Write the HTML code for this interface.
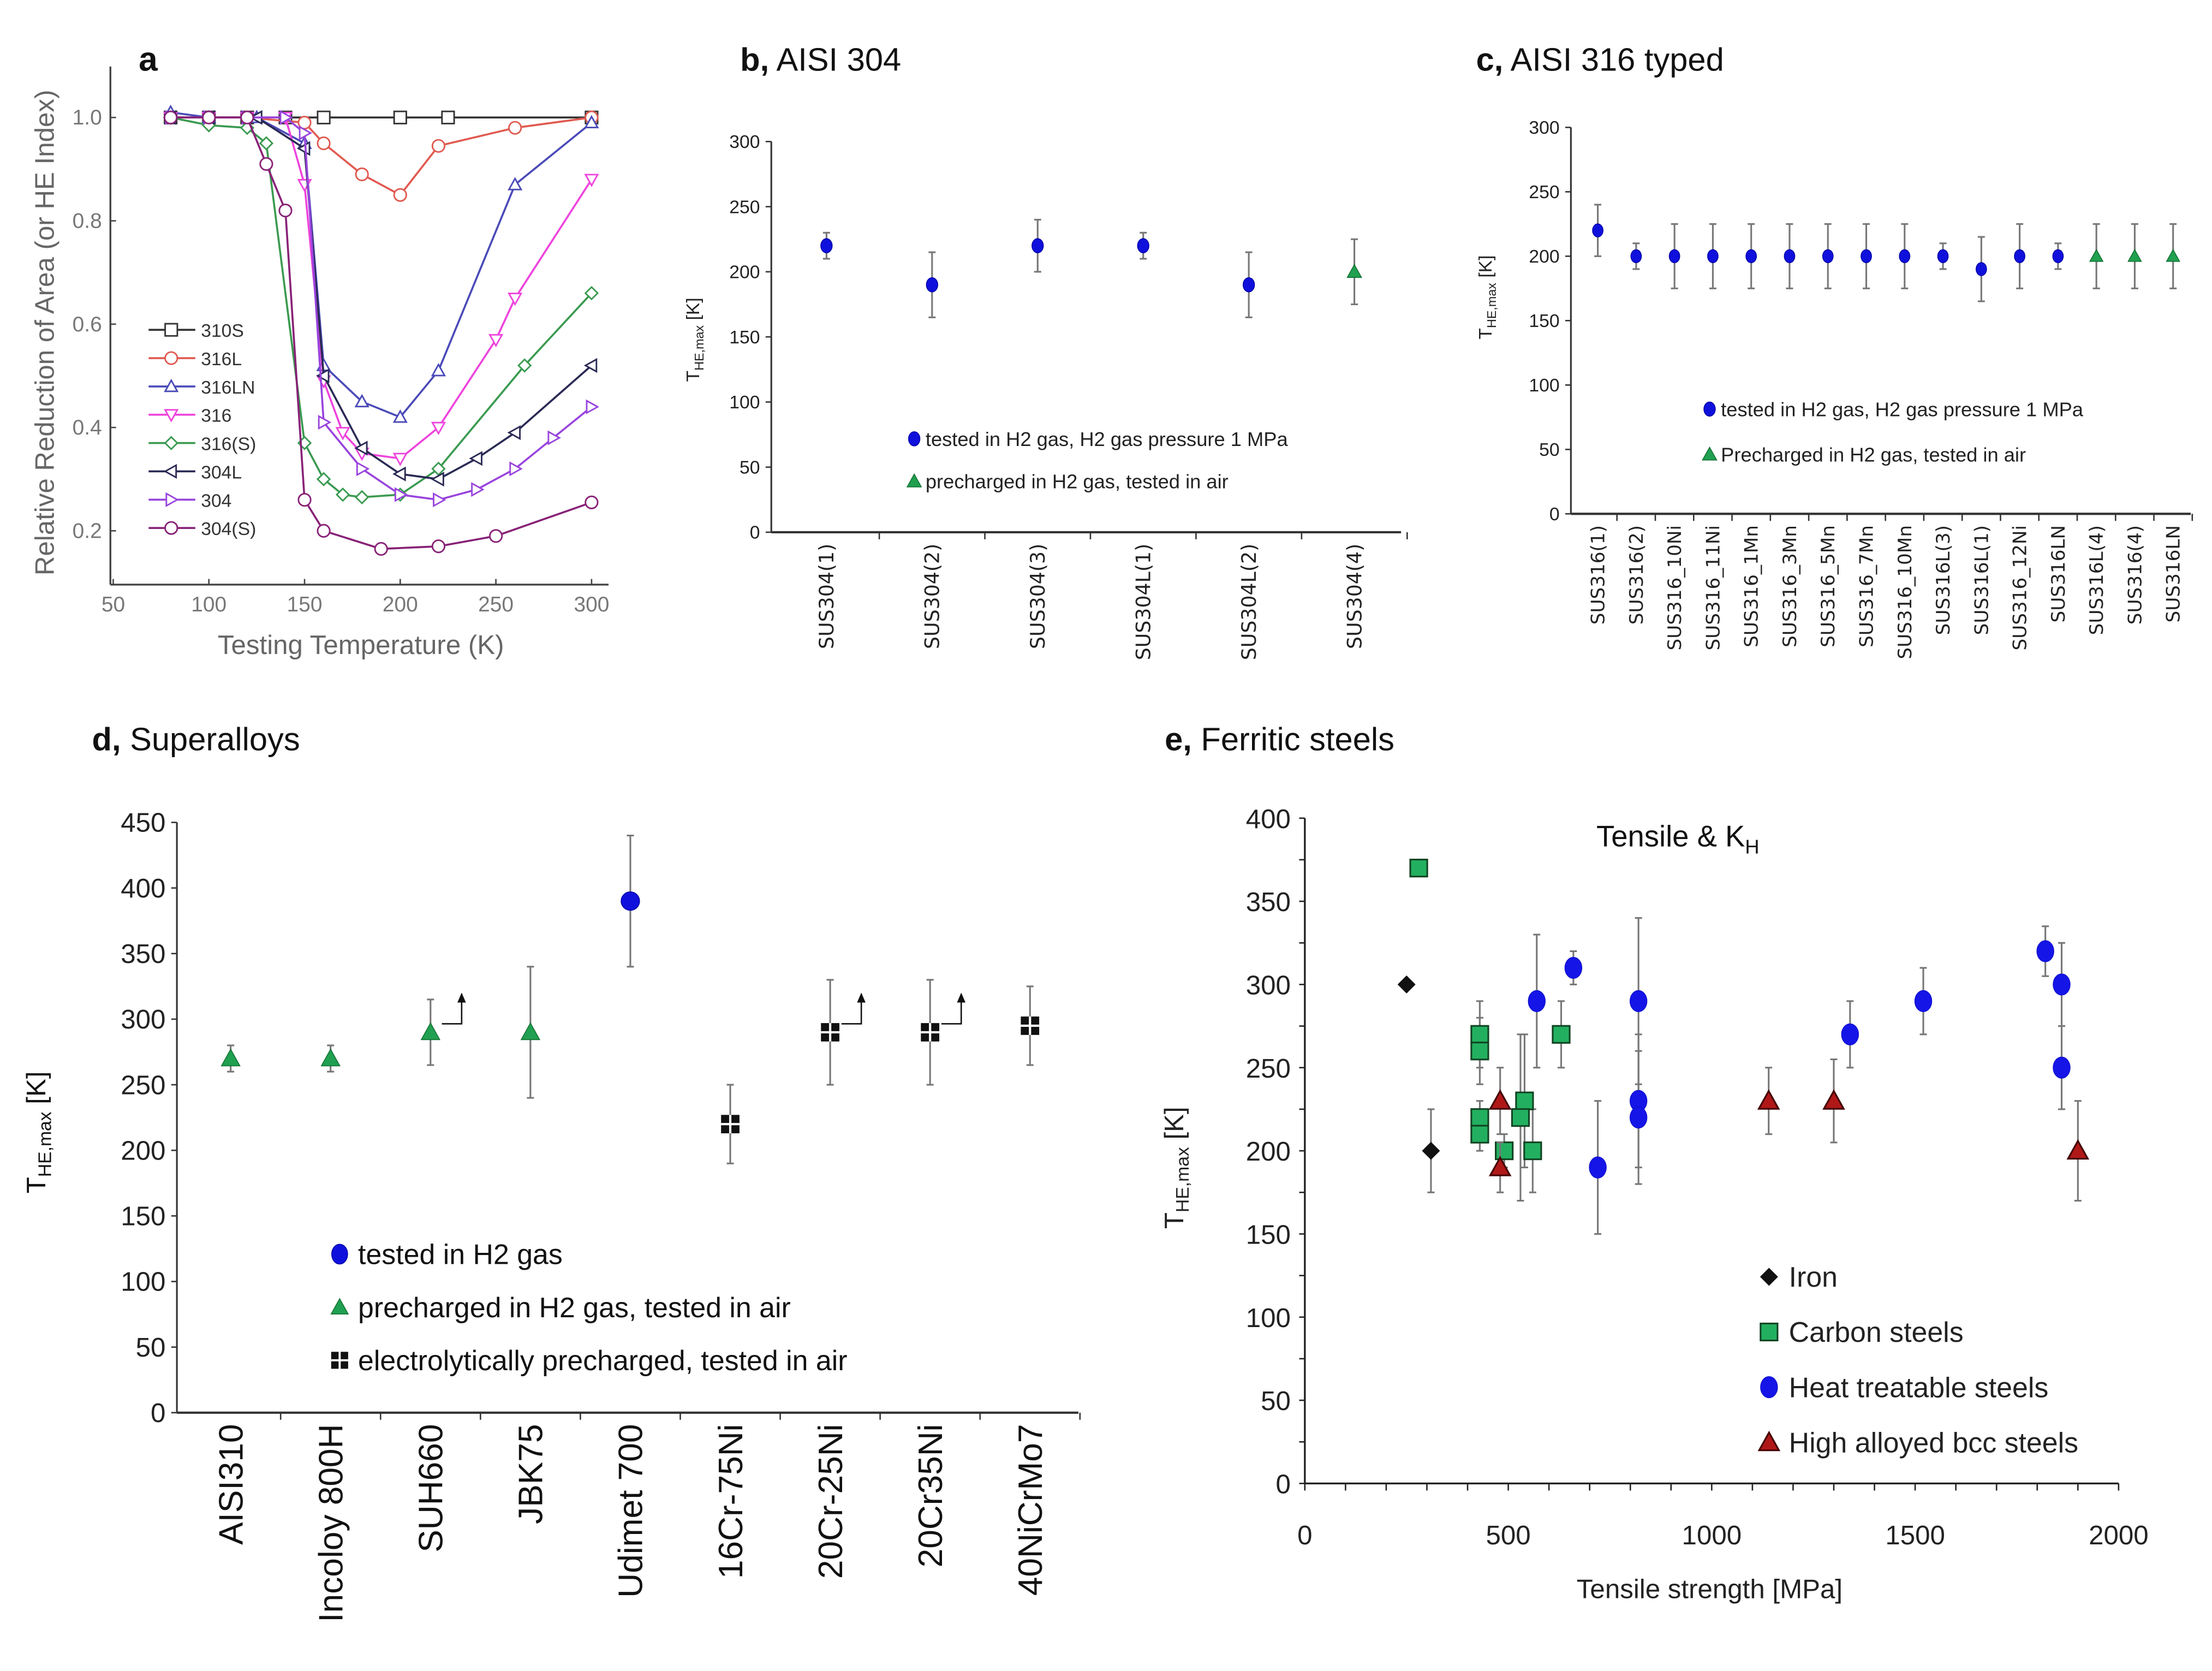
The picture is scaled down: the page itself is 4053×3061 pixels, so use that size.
<!DOCTYPE html>
<html><head><meta charset="utf-8"><style>
html,body{margin:0;padding:0;background:#fff;}
svg{display:block;font-family:"Liberation Sans",sans-serif;}
</style></head><body>
<svg id="fig" width="4053" height="3061" viewBox="0 0 1563 1180.5" preserveAspectRatio="none" xmlns="http://www.w3.org/2000/svg">
<rect width="1563" height="1180.5" fill="#fff"/>
<g id="pa"></g>
<g id="pb"></g>
<g id="pc"></g>
<g id="pd"></g>
<g id="pe"></g>
</svg>
<script>
// ---- Panel a data ----
const aSeriesNames = ["310S","316L","316LN","316","316(S)","304L","304","304(S)"];
const aX310S = [80,100,120,140,160,200,225,300];
const aY310S = [1.0,1.0,1.0,1.0,1.0,1.0,1.0,1.0];
const aX316L = [80,100,120,150,160,180,200,220,260,300];
const aY316L = [1.0,1.0,1.0,0.99,0.95,0.89,0.85,0.945,0.98,1.0];
const aX316LN = [80,100,125,150,160,180,200,220,260,300];
const aY316LN = [1.01,1.0,1.0,0.95,0.52,0.45,0.42,0.51,0.87,0.99];
const aX316 = [80,100,120,140,150,160,170,180,200,220,250,260,300];
const aY316 = [1.0,1.0,1.0,1.0,0.87,0.49,0.39,0.35,0.34,0.40,0.57,0.65,0.88];
const aX316S = [80,100,120,130,150,160,170,180,200,220,265,300];
const aY316S = [1.0,0.985,0.98,0.95,0.37,0.30,0.27,0.265,0.27,0.32,0.52,0.66];
const aX304L = [80,100,125,150,160,180,200,220,240,260,300];
const aY304L = [1.0,1.0,1.0,0.94,0.50,0.36,0.31,0.30,0.34,0.39,0.52];
const aX304 = [80,100,120,140,150,160,180,200,220,240,260,280,300];
const aY304 = [1.0,1.0,1.0,1.0,0.97,0.41,0.32,0.27,0.26,0.28,0.32,0.38,0.44];
const aX304S = [80,100,120,130,140,150,160,190,220,250,300];
const aY304S = [1.0,1.0,1.0,0.91,0.82,0.26,0.20,0.165,0.17,0.19,0.255];
const aXTicks = [50,100,150,200,250,300];
const aYTicks = [0.2,0.4,0.6,0.8,1.0];
// ---- Panel b data ----
const bCats = ["SUS304(1)","SUS304(2)","SUS304(3)","SUS304L(1)","SUS304L(2)","SUS304(4)"];
const bVals = [220,190,220,220,190,200];
const bErr = [10,25,20,10,25,25];
const bType = ["h2","h2","h2","h2","h2","pre"];
const bTicks = [0,50,100,150,200,250,300];
// ---- Panel c data ----
const cCats = ["SUS316(1)","SUS316(2)","SUS316_10Ni","SUS316_11Ni","SUS316_1Mn","SUS316_3Mn","SUS316_5Mn","SUS316_7Mn","SUS316_10Mn","SUS316L(3)","SUS316L(1)","SUS316_12Ni","SUS316LN","SUS316L(4)","SUS316(4)","SUS316LN"];
const cVals = [220,200,200,200,200,200,200,200,200,200,190,200,200,200,200,200];
const cErr = [20,10,25,25,25,25,25,25,25,10,25,25,10,25,25,25];
const cType = ["h2","h2","h2","h2","h2","h2","h2","h2","h2","h2","h2","h2","h2","pre","pre","pre"];
const cTicks = [0,50,100,150,200,250,300];
// ---- Panel d data ----
const dCats = ["AISI310","Incoloy 800H","SUH660","JBK75","Udimet 700","16Cr-75Ni","20Cr-25Ni","20Cr35Ni","40NiCrMo7"];
const dVals = [270,270,290,290,390,220,290,290,295];
const dErrHi = [10,10,25,50,50,30,40,40,30];
const dErrLo = [10,10,25,50,50,30,40,40,30];
const dType = ["pre","pre","pre","pre","h2","el","el","el","el"];
const dArrow = [0,0,1,0,0,0,1,1,0];
const dTicks = [0,50,100,150,200,250,300,350,400,450];
// ---- Panel e data ----
const eIronX = [250,310];
const eIronY = [300,200];
const eIronE = [0,25];
const eCarbX = [280,430,430,430,430,490,540,530,560,630];
const eCarbY = [370,270,260,220,210,200,230,220,200,270];
const eCarbE = [0,20,20,10,10,10,40,50,25,20];
const eHeatX = [570,660,720,820,820,820,1340,1520,1820,1860,1860];
const eHeatY = [290,310,190,290,230,220,270,290,320,300,250];
const eHeatE = [40,10,40,50,40,40,20,20,15,25,25];
const eHighX = [480,480,1140,1300,1900];
const eHighY = [230,190,230,230,200];
const eHighE = [20,15,20,25,30];
const eXTicks = [0,500,1000,1500,2000];
const eYTicks = [0,50,100,150,200,250,300,350,400];

const NS="http://www.w3.org/2000/svg";
function mk(parent,tag,attrs,text){const e=document.createElementNS(NS,tag);for(const k in attrs)e.setAttribute(k,attrs[k]);if(text!==undefined)e.textContent=text;parent.appendChild(e);return e;}

function marker(g,shape,x,y,r,fill,stroke,sw){
  let e;
  if(shape==="circle"){e=mk(g,"circle",{cx:x,cy:y,r:r,fill:fill,stroke:stroke,"stroke-width":sw});}
  else if(shape==="ellipse"){e=mk(g,"ellipse",{cx:x,cy:y,rx:r*0.8,ry:r,fill:fill,stroke:stroke,"stroke-width":sw});}
  else if(shape==="square"){e=mk(g,"rect",{x:x-r,y:y-r,width:2*r,height:2*r,fill:fill,stroke:stroke,"stroke-width":sw});}
  else {let p;
    if(shape==="up")p=[[x,y-r],[x+r,y+r*0.8],[x-r,y+r*0.8]];
    else if(shape==="down")p=[[x,y+r],[x+r,y-r*0.8],[x-r,y-r*0.8]];
    else if(shape==="left")p=[[x-r,y],[x+r*0.8,y-r],[x+r*0.8,y+r]];
    else if(shape==="right")p=[[x+r,y],[x-r*0.8,y-r],[x-r*0.8,y+r]];
    else if(shape==="diamond")p=[[x,y-r],[x+r,y],[x,y+r],[x-r,y]];
    e=mk(g,"polygon",{points:p.map(q=>q.join(",")).join(" "),fill:fill,stroke:stroke,"stroke-width":sw});}
  return e;
}
function ebar(g,x,y1,y2){
  const e=mk(g,"g",{});
  
  
  mk(e,"line",{x1:x,x2:x,y1:y1,y2:y2,stroke:"#777","stroke-width":1.2});
  mk(e,"line",{x1:x-2.5,x2:x+2.5,y1:y1,y2:y1,stroke:"#777","stroke-width":1.2});
  mk(e,"line",{x1:x-2.5,x2:x+2.5,y1:y2,y2:y2,stroke:"#777","stroke-width":1.2});
}

// ================= Panel a =================
(function(){
  const g=document.getElementById("pa");
  const X=v=>80+(v-50)*(338/250), Y=v=>83+(1.0-v)*365;
  mk(g,"line",{x1:78,y1:47,x2:78,y2:413,stroke:"#444","stroke-width":1.3});
  mk(g,"line",{x1:78,y1:413,x2:430,y2:413,stroke:"#444","stroke-width":1.3});
  aXTicks.forEach(t=>{mk(g,"line",{x1:X(t),x2:X(t),y1:413,y2:409,stroke:"#444"});
    const tx=mk(g,"text",{x:X(t),y:432,"font-size":15,fill:"#777","text-anchor":"middle"},String(t));
    });
  aYTicks.forEach(t=>{mk(g,"line",{x1:78,x2:82,y1:Y(t),y2:Y(t),stroke:"#444"});
    const tx=mk(g,"text",{x:72,y:Y(t)+5,"font-size":15,fill:"#777","text-anchor":"end"},t.toFixed(1));
    });
  const t1=mk(g,"text",{x:255,y:462,"font-size":19,fill:"#666","text-anchor":"middle"},"Testing Temperature (K)");
  
  const t2=mk(g,"text",{x:0,y:0,"font-size":19,fill:"#666","text-anchor":"middle",transform:"translate(38,235) rotate(-90)"},"Relative Reduction of Area (or HE Index)");
  
  const t3=mk(g,"text",{x:98,y:50,"font-size":24,"font-weight":"bold",fill:"#111"},"a");
  
  const xs=[aX310S,aX316L,aX316LN,aX316,aX316S,aX304L,aX304,aX304S];
  const ys=[aY310S,aY316L,aY316LN,aY316,aY316S,aY304L,aY304,aY304S];
  const cols=["#333","#e05a50","#4a4ab8","#ee44dd","#3a9a50","#2a2a55","#9944dd","#882277"];
  const shapes=["square","circle","up","down","diamond","left","right","circle"];
  xs.forEach((xa,i)=>{
    const s=mk(g,"g",{});
    
    
    mk(s,"polyline",{points:xa.map((v,j)=>X(v)+","+Y(ys[i][j])).join(" "),fill:"none",stroke:cols[i],"stroke-width":1.4});
    xa.forEach((v,j)=>marker(s,shapes[i],X(v),Y(ys[i][j]),4.3,"#fff",cols[i],1.1));
    const ly=233+i*20;
    const lg=mk(g,"g",{});
    
    
    mk(lg,"line",{x1:105,x2:138,y1:ly,y2:ly,stroke:cols[i],"stroke-width":1.4});
    marker(lg,shapes[i],121,ly,4.3,"#fff",cols[i],1.1);
    mk(lg,"text",{x:142,y:ly+5,"font-size":13,fill:"#333"},aSeriesNames[i]);
  });
})();

// ============ Category charts b, c, d ============
function catChart(gid,cats,vals,errHi,errLo,types,ticks,ymax,ax,ay0,ay1,x0,step,axisRight,tickFs,labFs,labColor,arrows,labFamily){
  const g=document.getElementById(gid);
  const Y=v=>ay0-(v/ymax)*(ay0-ay1);
  mk(g,"line",{x1:ax,x2:ax,y1:ay1,y2:ay0,stroke:"#333","stroke-width":1.2});
  mk(g,"line",{x1:ax,x2:axisRight,y1:ay0,y2:ay0,stroke:"#333","stroke-width":1.6});
  ticks.forEach(t=>{mk(g,"line",{x1:ax-4,x2:ax,y1:Y(t),y2:Y(t),stroke:"#333"});
    const tx=mk(g,"text",{x:ax-8,y:Y(t)+tickFs*0.35,"font-size":tickFs,fill:"#222","text-anchor":"end"},String(t));
    });
  cats.forEach((c,i)=>{
    const x=x0+i*step;
    mk(g,"line",{x1:x+step/2,x2:x+step/2,y1:ay0,y2:ay0+5,stroke:"#333"});
    const tx=mk(g,"text",{x:0,y:0,"font-size":labFs,fill:labColor,"text-anchor":"end","font-family":labFamily,transform:`translate(${x+labFs*0.35},${ay0+8}) rotate(-90)`},c);
    
    ebar(g,x,Y(vals[i]+errHi[i]),Y(vals[i]-errLo[i]));
    let m;
    const r=gid==="pd"?6.5:(gid==="pb"?5:4.6);
    if(types[i]==="h2")m=marker(g,gid==="pd"?"circle":"ellipse",x,Y(vals[i]),r,"#1010dd","#0000aa",0.6);
    else if(types[i]==="pre")m=marker(g,"up",x,Y(vals[i]),r,"#20a050","#107030",0.6);
    else {m=mk(g,"g",{});
      mk(m,"rect",{x:x-6.5,y:Y(vals[i])-6.5,width:13,height:13,fill:"#111"});
      mk(m,"line",{x1:x-6.5,x2:x+6.5,y1:Y(vals[i]),y2:Y(vals[i]),stroke:"#fff","stroke-width":1.6});
      mk(m,"line",{x1:x,x2:x,y1:Y(vals[i])-6.5,y2:Y(vals[i])+6.5,stroke:"#fff","stroke-width":1.6});}
    
    
    if(arrows&&arrows[i]){
      const yy=Y(vals[i]);
      mk(g,"polyline",{points:`${x+8},${yy-6} ${x+22},${yy-6} ${x+22},${yy-22}`,fill:"none",stroke:"#111","stroke-width":1});
      mk(g,"polygon",{points:`${x+22},${yy-28} ${x+25},${yy-21} ${x+19},${yy-21}`,fill:"#111"});
    }
  });
  return {g,Y};
}
(function(){
  const r=catChart("pb",bCats,bVals,bErr,bErr,bType,bTicks,300,545,376,100,584,74.6,990,13,14,"#222",null,"DejaVu Sans, sans-serif");
  const g=r.g;
  const t=mk(g,"text",{x:523,y:50,"font-size":23,fill:"#111"});t.innerHTML='<tspan font-weight="bold">b,</tspan> AISI 304';
  
  const yl=mk(g,"text",{x:0,y:0,"font-size":13,fill:"#222","text-anchor":"middle",transform:"translate(494,240) rotate(-90)"});yl.innerHTML='T<tspan font-size="9" dy="3">HE,max</tspan><tspan dy="-3"> [K]</tspan>';
  
  const l1=mk(g,"g",{});
  marker(l1,"ellipse",646,310,5,"#1010dd","#0000aa",0.6);mk(l1,"text",{x:654,y:315,"font-size":14,fill:"#222"},"tested in H2 gas, H2 gas pressure 1 MPa");
  const l2=mk(g,"g",{});
  marker(l2,"up",646,340,5,"#20a050","#107030",0.6);mk(l2,"text",{x:654,y:345,"font-size":14,fill:"#222"},"precharged in H2 gas, tested in air");
})();
(function(){
  const r=catChart("pc",cCats,cVals,cErr,cErr,cType,cTicks,300,1110,363,90,1129,27.1,1548,13,13.2,"#222",null,"DejaVu Sans, sans-serif");
  const g=r.g;
  const t=mk(g,"text",{x:1043,y:50,"font-size":23,fill:"#111"});t.innerHTML='<tspan font-weight="bold">c,</tspan> AISI 316 typed';
  
  const yl=mk(g,"text",{x:0,y:0,"font-size":13,fill:"#222","text-anchor":"middle",transform:"translate(1054,210) rotate(-90)"});yl.innerHTML='T<tspan font-size="9" dy="3">HE,max</tspan><tspan dy="-3"> [K]</tspan>';
  
  const l1=mk(g,"g",{});
  marker(l1,"ellipse",1208,289,5,"#1010dd","#0000aa",0.6);mk(l1,"text",{x:1216,y:294,"font-size":14,fill:"#222"},"tested in H2 gas, H2 gas pressure 1 MPa");
  const l2=mk(g,"g",{});
  marker(l2,"up",1208,321,5,"#20a050","#107030",0.6);mk(l2,"text",{x:1216,y:326,"font-size":14,fill:"#222"},"Precharged in H2 gas, tested in air");
})();
(function(){
  const r=catChart("pd",dCats,dVals,dErrHi,dErrLo,dType,dTicks,450,125,998,581,163,70.6,762,19,24,"#111",dArrow,"Liberation Sans, sans-serif");
  const g=r.g;
  const t=mk(g,"text",{x:65,y:530,"font-size":23,fill:"#111"});t.innerHTML='<tspan font-weight="bold">d,</tspan> Superalloys';
  
  const yl=mk(g,"text",{x:0,y:0,"font-size":19,fill:"#111","text-anchor":"middle",transform:"translate(32,800) rotate(-90)"});yl.innerHTML='T<tspan font-size="13" dy="4">HE,max</tspan><tspan dy="-4"> [K]</tspan>';
  
  const items=[["h2","tested in H2 gas"],["pre","precharged in H2 gas, tested in air"],["el","electrolytically precharged, tested in air"]];
  items.forEach((it,i)=>{const y=886+i*37.5;
    const l=mk(g,"g",{});
    if(it[0]==="h2")marker(l,"ellipse",240,y,7,"#1010dd","#0000aa",0.6);
    else if(it[0]==="pre")marker(l,"up",240,y,6,"#20a050","#107030",0.6);
    else{mk(l,"rect",{x:234,y:y-6,width:12,height:12,fill:"#111"});mk(l,"line",{x1:234,x2:246,y1:y,y2:y,stroke:"#fff","stroke-width":1.5});mk(l,"line",{x1:240,x2:240,y1:y-6,y2:y+6,stroke:"#fff","stroke-width":1.5});}
    mk(l,"text",{x:253,y:y+7,"font-size":20,fill:"#111"},it[1]);});
})();

// ================= Panel e =================
(function(){
  const g=document.getElementById("pe");
  const X=v=>922+v*(575/2000), Y=v=>1048-v*(470/400);
  mk(g,"line",{x1:922,x2:922,y1:578,y2:1048,stroke:"#222","stroke-width":1.3});
  mk(g,"line",{x1:922,x2:1497,y1:1048,y2:1048,stroke:"#222","stroke-width":1.3});
  for(let v=0;v<=2000;v+=100)mk(g,"line",{x1:X(v),x2:X(v),y1:1048,y2:1053,stroke:"#222"});
  for(let v=0;v<=400;v+=25)mk(g,"line",{x1:918,x2:922,y1:Y(v),y2:Y(v),stroke:"#222"});
  eXTicks.forEach(t=>{const tx=mk(g,"text",{x:X(t),y:1091,"font-size":19,fill:"#222","text-anchor":"middle"},String(t));
    });
  eYTicks.forEach(t=>{const tx=mk(g,"text",{x:912,y:Y(t)+7,"font-size":19,fill:"#222","text-anchor":"end"},String(t));
    });
  const t=mk(g,"text",{x:823,y:530,"font-size":23,fill:"#111"});t.innerHTML='<tspan font-weight="bold">e,</tspan> Ferritic steels';
  
  const st=mk(g,"text",{x:1128,y:598,"font-size":21,fill:"#111"});st.innerHTML='Tensile &amp; K<tspan font-size="14" dy="5">H</tspan>';
  
  const xl=mk(g,"text",{x:1208,y:1129,"font-size":19,fill:"#222","text-anchor":"middle"},"Tensile strength [MPa]");
  
  const yl=mk(g,"text",{x:0,y:0,"font-size":19,fill:"#222","text-anchor":"middle",transform:"translate(836,825) rotate(-90)"});yl.innerHTML='T<tspan font-size="13" dy="4">HE,max</tspan><tspan dy="-4"> [K]</tspan>';
  
  function series(name,xs,ys,es,draw){
    const s=mk(g,"g",{});
    
    
    xs.forEach((x,i)=>{if(es[i]>0)ebar(s,X(x),Y(ys[i]+es[i]),Y(ys[i]-es[i]));});
    xs.forEach((x,i)=>draw(s,X(x),Y(ys[i])));
  }
  const dIron=(s,x,y)=>marker(s,"diamond",x,y,6,"#111","#111",0.5);
  const dCarb=(s,x,y)=>marker(s,"square",x,y,6,"#22b060","#114422",1.2);
  const dHeat=(s,x,y)=>marker(s,"ellipse",x,y,7.5,"#1515e8","#1010cc",0.5);
  const dHigh=(s,x,y)=>marker(s,"up",x,y,7,"#b01818","#400",1.2);
  series("series-iron",eIronX,eIronY,eIronE,dIron);
  series("series-carbon-steels",eCarbX,eCarbY,eCarbE,dCarb);
  series("series-heat-treatable-steels",eHeatX,eHeatY,eHeatE,dHeat);
  series("series-high-alloyed-bcc-steels",eHighX,eHighY,eHighE,dHigh);
  const items=[["Iron",dIron],["Carbon steels",dCarb],["Heat treatable steels",dHeat],["High alloyed bcc steels",dHigh]];
  items.forEach((it,i)=>{const y=902+i*39;
    const l=mk(g,"g",{});
    it[1](l,1250,y);mk(l,"text",{x:1264,y:y+7,"font-size":20,fill:"#222"},it[0]);});
})();
</script>
</body></html>
